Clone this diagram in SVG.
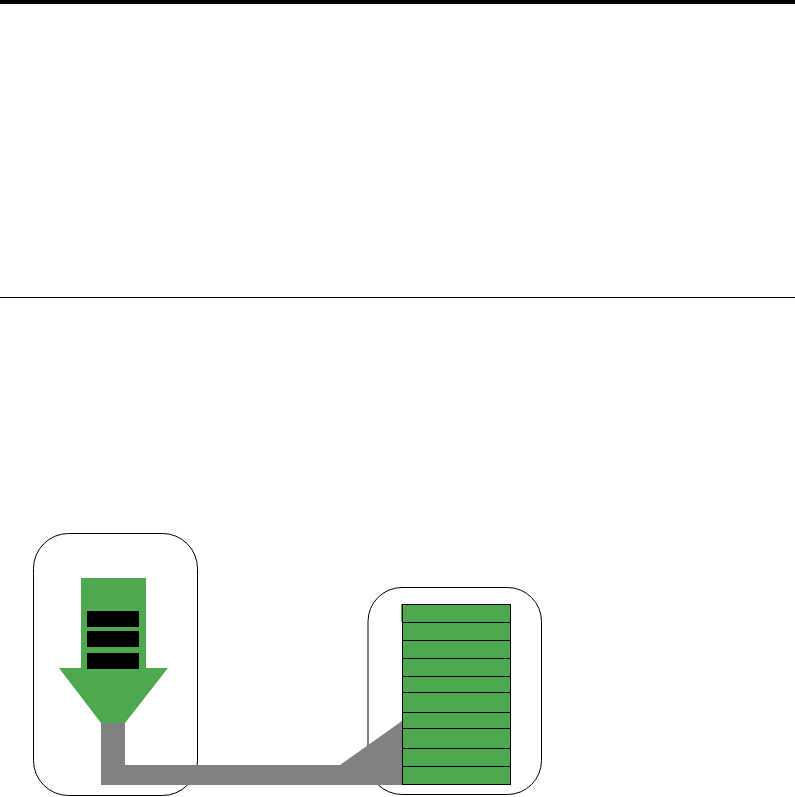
<svg xmlns="http://www.w3.org/2000/svg" width="795" height="797" viewBox="0 0 795 797">
<style>
.box{fill:#fff;stroke:#000;stroke-width:1}
.g{fill:#4ea84f}
.k{fill:#000}
.row{fill:#4ea84f;stroke:#000;stroke-width:1}
.c{fill:#818181}
</style>
<rect width="795" height="797" fill="#fff"/>
<rect id="top-rule" x="0" y="0" width="795" height="4" fill="#000"/>
<rect id="mid-rule" x="0" y="297" width="795" height="1" fill="#000"/>
<g id="left-node">
<rect class="box" x="33.500" y="533.500" width="164" height="262" rx="35" ry="35"/>
<path class="g" d="M81 578H146V668H168L125 723H101L59 668H81Z"/>
<rect class="k" x="87" y="611" width="52" height="16"/>
<rect class="k" x="87" y="631" width="52" height="16"/>
<rect class="k" x="87" y="653" width="52" height="16"/>
</g>
<g id="right-node">
<rect class="box" x="368" y="587.500" width="173.500" height="207" rx="34" ry="34"/>
</g>
<g id="connectors">
<path class="c" d="M101 723H125V765H340L402 721V785H101Z"/>
</g>
<g id="stack">
<rect class="g" x="401" y="604" width="2" height="18"/>
<rect class="row" x="402.500" y="604.500" width="108" height="18"/>
<rect class="row" x="402.500" y="622.500" width="108" height="18"/>
<rect class="row" x="402.500" y="640.500" width="108" height="18"/>
<rect class="row" x="402.500" y="658.500" width="108" height="18"/>
<rect class="row" x="402.500" y="676.500" width="108" height="16"/>
<rect class="row" x="402.500" y="692.500" width="108" height="20"/>
<rect class="row" x="402.500" y="712.500" width="108" height="16"/>
<rect class="row" x="402.500" y="728.500" width="108" height="20"/>
<rect class="row" x="402.500" y="748.500" width="108" height="18"/>
<rect class="row" x="402.500" y="766.500" width="108" height="18"/>
</g>
</svg>
